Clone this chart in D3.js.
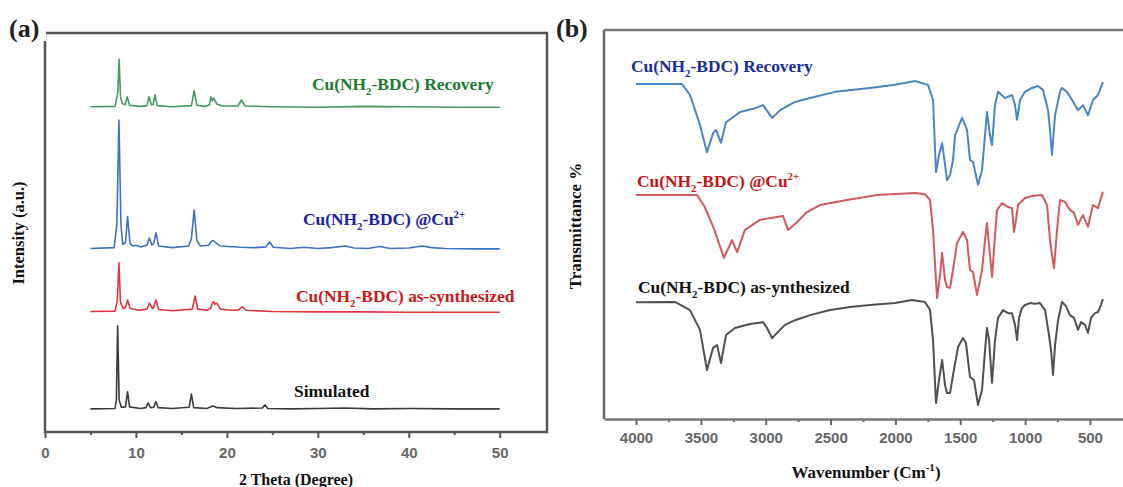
<!DOCTYPE html>
<html>
<head>
<meta charset="utf-8">
<script src="https://cdn.jsdelivr.net/npm/d3@7"></script>
<style>
  body { margin: 0; background: #fff; }
  text { font-family: "Liberation Serif", "Times New Roman", serif; font-weight: bold; }
  .tick-label { font-family: "Liberation Sans", Arial, sans-serif; font-weight: bold; fill: #666; font-size: 15px; }
</style>
</head>
<body>
<div id="chart"></div>
<script>
// ---- data: (a) XRD patterns, [2theta, intensity a.u.] ----
var xrdRecovery = [[5, 81.5], [7.7, 81.6], [8.0, 85], [8.15, 93.4], [8.3, 84], [8.5, 82.3], [8.8, 82.0], [9.04, 84.0], [9.3, 81.9],
  [10.5, 81.6], [11.2, 81.8], [11.43, 84.0], [11.7, 82.0], [11.9, 82.1], [12.09, 84.5], [12.35, 81.8], [14, 81.5],
  [16.1, 81.8], [16.4, 85.5], [16.7, 81.9], [17.6, 81.6], [18.1, 82.0], [18.24, 84.0], [18.4, 83.0], [18.55, 83.7],
  [18.9, 82.2], [19.5, 81.7], [21.2, 81.7], [21.6, 83.2], [22.0, 81.7], [25, 81.5], [30, 81.4], [35, 81.6], [40, 81.5], [45, 81.4], [50, 81.4]];
var xrdCu = [[5, 46.0], [7.6, 46.2], [7.9, 52], [8.13, 78.2], [8.35, 52], [8.55, 47.0], [8.85, 47.5], [9.08, 54.0], [9.35, 47.2],
  [9.7, 46.6], [10.0, 46.8], [10.5, 46.4], [11.2, 46.8], [11.47, 48.6], [11.75, 46.9], [11.95, 47.2], [12.2, 49.9], [12.5, 46.6],
  [14, 46.2], [15.8, 46.6], [16.1, 48.5], [16.4, 55.6], [16.7, 48], [17.1, 46.6], [18.0, 46.8], [18.3, 47.8], [18.5, 48.0],
  [18.8, 47.4], [19.3, 46.6], [21.5, 46.3], [23, 46.2], [24.3, 46.4], [24.7, 47.6], [25.1, 46.3], [27, 46.0], [28.5, 46.3],
  [30, 46.0], [31.5, 46.2], [33, 46.6], [34, 46.1], [35.5, 46.0], [36.8, 46.5], [38, 46.0], [40, 46.1], [41.5, 46.6],
  [42.5, 46.2], [44, 46.0], [47, 45.9], [50, 45.9]];
var xrdSynth = [[5, 30.2], [7.7, 30.3], [7.95, 33], [8.13, 42.4], [8.3, 32.5], [8.6, 30.9], [8.85, 31.2], [9.08, 33.1], [9.35, 31.0],
  [10.3, 30.5], [11.2, 30.8], [11.5, 32.3], [11.8, 30.9], [11.95, 31.2], [12.2, 33.1], [12.5, 30.7], [14, 30.4], [16.2, 30.8],
  [16.5, 34.1], [16.8, 30.8], [17.8, 30.5], [18.2, 31.0], [18.5, 32.7], [18.7, 32.0], [18.9, 32.3], [19.3, 30.8], [20.5, 30.5],
  [21.3, 30.6], [21.7, 31.4], [22.1, 30.5], [25, 30.2], [30, 30.1], [35, 30.1], [40, 30.0], [45, 30.0], [50, 30.0]];
var xrdSim = [[5, 5.8], [7.7, 5.9], [7.85, 8], [7.99, 26.6], [8.15, 8], [8.4, 6.2], [8.85, 6.3], [9.08, 10.1], [9.3, 6.3],
  [10.5, 5.9], [11.1, 6.1], [11.35, 7.3], [11.6, 6.1], [11.95, 6.2], [12.2, 7.6], [12.45, 6.1], [14, 5.9], [15.85, 6.2],
  [16.1, 9.5], [16.35, 6.1], [17.8, 5.9], [18.2, 6.3], [18.5, 6.5], [18.9, 6.1], [21, 5.9], [23.9, 6.0], [24.2, 6.8],
  [24.5, 5.9], [27, 5.8], [30, 5.9], [33, 6.0], [36, 5.8], [40, 5.9], [45, 5.8], [50, 5.8]];
var xrdTicks = [0, 10, 20, 30, 40, 50];

// ---- data: (b) FTIR spectra, [wavenumber, transmittance] ----
var irRecovery = [[4000, 86.1], [3645, 86.1], [3584, 83.3], [3507, 75.6], [3453, 68.6], [3406, 73.5], [3383, 74.3], [3345, 71.0],
  [3306, 76.3], [3198, 78.9], [3082, 79.9], [3021, 80.7], [2951, 77.4], [2889, 79.4], [2774, 81.5], [2658, 82.5], [2465, 84.1],
  [2196, 85.1], [2003, 85.9], [1849, 86.9], [1749, 85.9], [1710, 82.0], [1687, 63.5], [1664, 67.9], [1640, 70.9], [1617, 65.3],
  [1602, 61.4], [1579, 62.7], [1556, 66.6], [1540, 73.0], [1486, 77.4], [1448, 74.3], [1425, 66.6], [1402, 66.1], [1363, 60.2],
  [1332, 64.0], [1309, 73.0], [1294, 78.9], [1271, 73.0], [1255, 70.4], [1232, 80.7], [1209, 84.1], [1155, 82.5], [1101, 83.3],
  [1078, 80.7], [1062, 76.9], [1039, 82.0], [1001, 84.1], [947, 85.1], [901, 85.6], [862, 84.6], [823, 79.4], [808, 74.3],
  [793, 67.9], [769, 78.1], [731, 84.1], [715, 85.1], [677, 84.1], [638, 82.0], [592, 79.4], [554, 80.7], [515, 78.1],
  [477, 82.0], [438, 83.3], [400, 86.6]];
var irCu = [[4000, 57.6], [3530, 57.6], [3470, 54.5], [3400, 49.0], [3322, 41.4], [3260, 46.0], [3221, 42.9], [3160, 48.6],
  [3045, 51.2], [2867, 52.2], [2828, 48.6], [2759, 50.6], [2682, 53.2], [2581, 55.0], [2373, 56.3], [2142, 57.6], [1849, 58.1],
  [1772, 57.8], [1733, 56.3], [1710, 48.6], [1679, 31.1], [1656, 37.0], [1640, 42.7], [1617, 35.7], [1602, 33.9], [1579, 33.7],
  [1556, 38.3], [1525, 45.2], [1479, 48.1], [1448, 46.0], [1425, 38.3], [1402, 37.8], [1371, 31.9], [1332, 38.3], [1309, 46.0],
  [1294, 50.4], [1278, 44.7], [1255, 36.5], [1232, 47.3], [1217, 53.7], [1178, 55.5], [1132, 54.5], [1101, 54.2], [1086, 48.1],
  [1070, 51.2], [1055, 55.0], [1001, 56.8], [947, 57.3], [870, 57.6], [831, 55.0], [808, 46.0], [793, 42.2], [777, 38.8],
  [754, 48.6], [731, 56.3], [692, 55.8], [654, 53.7], [623, 53.0], [592, 49.9], [554, 52.4], [515, 49.4], [477, 55.0],
  [438, 54.2], [400, 58.4]];
var irSynth = [[4000, 30.0], [3700, 30.1], [3584, 28.0], [3507, 22.9], [3453, 12.6], [3406, 18.3], [3375, 19.0], [3345, 14.4],
  [3306, 21.6], [3237, 23.4], [3121, 24.4], [3021, 24.9], [2990, 23.4], [2951, 20.8], [2905, 22.4], [2851, 24.2], [2774, 25.4],
  [2658, 26.7], [2504, 28.0], [2350, 28.8], [2196, 29.3], [2003, 29.8], [1872, 30.6], [1772, 30.1], [1733, 28.0], [1710, 20.3],
  [1687, 4.1], [1664, 10.0], [1640, 15.2], [1617, 8.7], [1602, 6.7], [1579, 6.7], [1556, 11.3], [1517, 18.5], [1479, 20.8],
  [1456, 19.5], [1425, 10.8], [1394, 10.0], [1363, 3.6], [1332, 7.5], [1309, 17.7], [1294, 23.4], [1278, 20.3], [1255, 9.3],
  [1232, 20.3], [1209, 26.0], [1170, 28.0], [1132, 27.2], [1101, 27.2], [1078, 24.2], [1062, 20.3], [1047, 26.0], [1024, 28.5],
  [1001, 29.3], [962, 29.8], [924, 29.6], [885, 29.8], [846, 28.0], [816, 21.6], [800, 17.7], [785, 11.3], [769, 19.0],
  [746, 25.4], [715, 30.1], [685, 29.0], [654, 26.7], [623, 26.0], [592, 22.9], [569, 24.9], [538, 24.2], [515, 22.1],
  [492, 26.0], [461, 27.2], [438, 27.5], [415, 29.3], [400, 30.8]];
var irTicks = [4000, 3500, 3000, 2500, 2000, 1500, 1000, 500];

var W = 1123, H = 487;
var svg = d3.select("#chart").append("svg")
    .attr("width", W)
    .attr("height", H)
    .style("background", "#fff");

// text with sub/superscript parts: [text, "n" | "sub" | "sup"]
function richText(g, x, y, parts, color, size) {
    var t = g.append("text").attr("x", x).attr("y", y)
        .style("font-size", size + "px").style("fill", color);
    var shift = 0;
    parts.forEach(function (p) {
        var want = p[1] == "sub" ? size * 0.3 : (p[1] == "sup" ? -size * 0.4 : 0);
        t.append("tspan")
            .attr("dy", want - shift)
            .style("font-size", p[1] == "n" ? size + "px" : (size * 0.62) + "px")
            .text(p[0]);
        shift = want;
    });
    return t;
}

// =================== (a) XRD ===================
var xA = d3.scaleLinear().domain([0, 55.2]).range([45, 547]);
var yA = d3.scaleLinear().domain([0, 100]).range([432, 33]);
var gA = svg.append("g");

var lineA = d3.line().x(function (d) { return xA(d[0]); }).y(function (d) { return yA(d[1]); });
var xrdSeries = [
    { data: xrdRecovery, color: "#3f9b5e" },
    { data: xrdCu, color: "#3d72c6" },
    { data: xrdSynth, color: "#e0343f" },
    { data: xrdSim, color: "#3a3a3a" }
];
gA.selectAll("path.xrd").data(xrdSeries).join("path")
    .attr("class", "xrd")
    .attr("d", function (d) { return lineA(d.data); })
    .attr("fill", "none")
    .attr("stroke", function (d) { return d.color; })
    .attr("stroke-width", 1.6)
    .attr("stroke-linejoin", "round");

// frame
gA.append("rect")
    .attr("x", xA(0)).attr("y", yA(100))
    .attr("width", xA(55.2) - xA(0)).attr("height", yA(0) - yA(100))
    .attr("fill", "none").attr("stroke", "#555").attr("stroke-width", 2.5);

// x axis ticks
gA.append("g")
    .attr("transform", "translate(0," + yA(0) + ")")
    .call(d3.axisBottom(xA).tickValues([5, 15, 25, 35, 45]).tickSize(3).tickFormat(""))
    .call(function (g) { g.select(".domain").remove(); g.selectAll("line").attr("stroke", "#555").attr("stroke-width", 2); });
var axA = gA.append("g")
    .attr("transform", "translate(0," + yA(0) + ")")
    .call(d3.axisBottom(xA).tickValues(xrdTicks).tickSize(6).tickPadding(9).tickFormat(d3.format("d")))
    .call(function (g) { g.select(".domain").remove(); g.selectAll("line").attr("stroke", "#555").attr("stroke-width", 2); });
axA.selectAll("text").attr("class", "tick-label").attr("font-family", null).attr("font-size", null).attr("fill", null);

gA.append("text").attr("x", 296).attr("y", 485).attr("text-anchor", "middle")
    .style("font-size", "16px").style("fill", "#111").text("2 Theta (Degree)");
gA.append("text").attr("transform", "translate(24,233) rotate(-90)").attr("text-anchor", "middle")
    .style("font-size", "16.5px").style("fill", "#111").text("Intensity (a.u.)");
gA.append("rect").attr("x", 8).attr("y", 12).attr("width", 38).attr("height", 29).attr("fill", "#fff");
gA.append("text").attr("x", 9).attr("y", 37).style("font-size", "26px").style("fill", "#222").text("(a)");

richText(gA, 312, 90, [["Cu(NH", "n"], ["2", "sub"], ["-BDC) Recovery", "n"]], "#1d7a2e", 17.4);
richText(gA, 303, 225, [["Cu(NH", "n"], ["2", "sub"], ["-BDC) @Cu", "n"], ["2+", "sup"]], "#2020b0", 17.4);
richText(gA, 296, 302, [["Cu(NH", "n"], ["2", "sub"], ["-BDC) as-synthesized", "n"]], "#d01818", 17.4);
richText(gA, 294, 397, [["Simulated", "n"]], "#111", 17.4);

// =================== (b) FTIR ===================
var xB = d3.scaleLinear().domain([4247, 4000 - (1125 - 636) / 0.1297]).range([604, 1125]);
var yB = d3.scaleLinear().domain([0, 100]).range([419, 30]);
var gB = svg.append("g");

var lineB = d3.line().x(function (d) { return xB(d[0]); }).y(function (d) { return yB(d[1]); });
var irSeries = [
    { data: irRecovery, color: "#4a86c4" },
    { data: irCu, color: "#d25a5e" },
    { data: irSynth, color: "#505050" }
];
gB.selectAll("path.ir").data(irSeries).join("path")
    .attr("class", "ir")
    .attr("d", function (d) { return lineB(d.data); })
    .attr("fill", "none")
    .attr("stroke", function (d) { return d.color; })
    .attr("stroke-width", 2)
    .attr("stroke-linejoin", "round");

// frame lines: left, top, bottom
gB.append("line").attr("x1", 604).attr("x2", 604).attr("y1", 30).attr("y2", 419)
    .attr("stroke", "#666").attr("stroke-width", 2.5);
gB.append("line").attr("x1", 604).attr("x2", 1123).attr("y1", 30).attr("y2", 30)
    .attr("stroke", "#777").attr("stroke-width", 2.5);
gB.append("g")
    .attr("transform", "translate(0," + yB(0) + ")")
    .call(d3.axisBottom(xB).tickValues([3750, 3250, 2750, 2250, 1750, 1250, 750]).tickSize(3).tickFormat(""))
    .call(function (g) { g.select(".domain").remove(); g.selectAll("line").attr("stroke", "#666").attr("stroke-width", 2); });
var axB = gB.append("g")
    .attr("transform", "translate(0," + yB(0) + ")")
    .call(d3.axisBottom(xB).tickValues(irTicks).tickSize(6).tickPadding(7).tickSizeOuter(0).tickFormat(d3.format("d")))
    .call(function (g) {
        g.select(".domain").attr("stroke", "#777").attr("stroke-width", 2.5);
        g.selectAll("line").attr("stroke", "#666").attr("stroke-width", 2);
    });
axB.selectAll("text").attr("class", "tick-label").attr("font-family", null).attr("font-size", null).attr("fill", null);

var wt = gB.append("text").attr("x", 866).attr("y", 478).attr("text-anchor", "middle")
    .style("font-size", "17px").style("fill", "#111");
wt.append("tspan").text("Wavenumber (Cm");
wt.append("tspan").attr("dy", -7).style("font-size", "11px").text("-1");
wt.append("tspan").attr("dy", 7).text(")");
gB.append("text").attr("transform", "translate(581,226) rotate(-90)").attr("text-anchor", "middle")
    .style("font-size", "17px").style("fill", "#111").text("Transmittance %");
gB.append("rect").attr("x", 556).attr("y", 12).attr("width", 46).attr("height", 30).attr("fill", "#fff");
gB.append("text").attr("x", 556).attr("y", 37).style("font-size", "26px").style("fill", "#222").text("(b)");

richText(gB, 631, 72, [["Cu(NH", "n"], ["2", "sub"], ["-BDC) Recovery", "n"]], "#1a2da0", 17.4);
richText(gB, 637, 187, [["Cu(NH", "n"], ["2", "sub"], ["-BDC) @Cu", "n"], ["2+", "sup"]], "#c81414", 17.4);
richText(gB, 638, 293, [["Cu(NH", "n"], ["2", "sub"], ["-BDC) as-ynthesized", "n"]], "#111", 17.4);
</script>
</body>
</html>
